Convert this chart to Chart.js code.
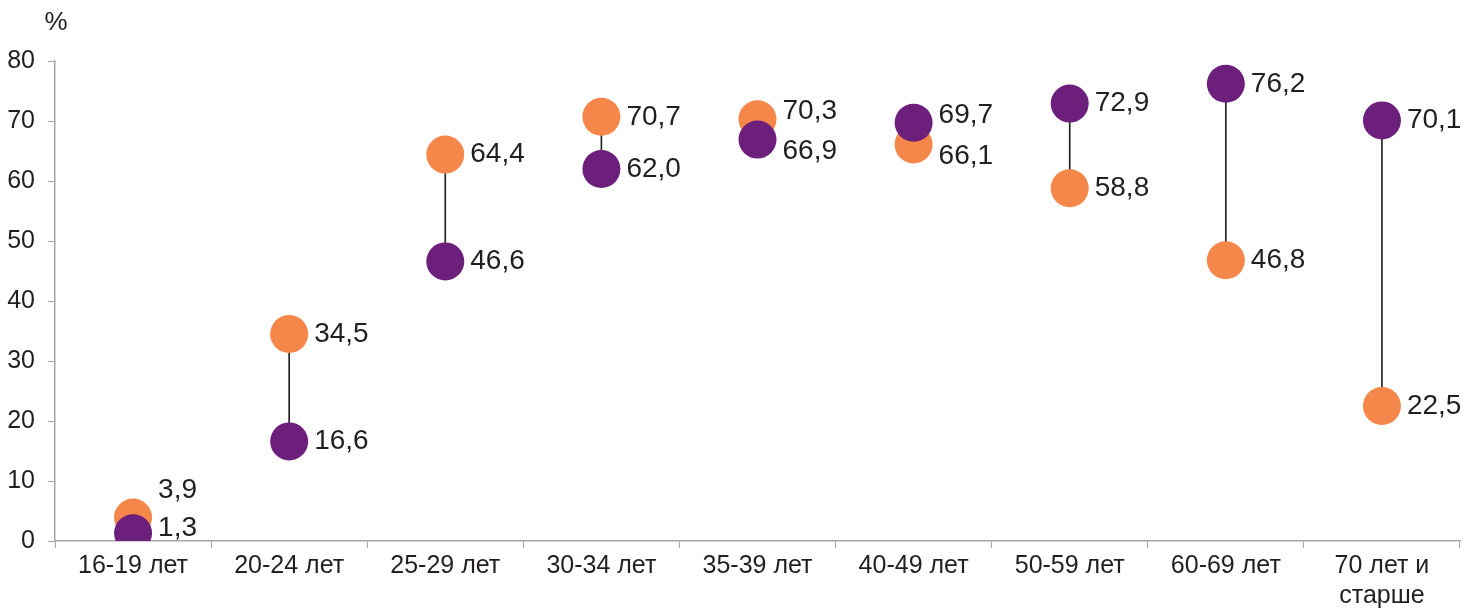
<!DOCTYPE html>
<html>
<head>
<meta charset="utf-8">
<script src="https://cdn.jsdelivr.net/npm/chart.js@4"></script>
<style>
  body { margin: 0; background: #fff; }
  #wrap { width: 1482px; height: 611px; }
</style>
</head>
<body>
<div id="wrap"><canvas id="dotChart" width="1482" height="611"></canvas></div>
<script>
var categories = ['16-19 лет', '20-24 лет', '25-29 лет', '30-34 лет', '35-39 лет', '40-49 лет', '50-59 лет', '60-69 лет', ['70 лет и', 'старше']];
var orangeValues = [3.9, 34.5, 64.4, 70.7, 70.3, 66.1, 58.8, 46.8, 22.5];
var purpleValues = [1.3, 16.6, 46.6, 62.0, 66.9, 69.7, 72.9, 76.2, 70.1];
var yTicks = [0, 10, 20, 30, 40, 50, 60, 70, 80];

var ORANGE = '#F5874A';
var PURPLE = '#6C1F7B';
var TEXT = '#231F20';
var AXIS = '#A6A6A6';
var FONT = '"Liberation Sans", Arial, sans-serif';

// thin line between the two dots of each category (floating bar)
var ranges = orangeValues.map(function (v, i) {
    return [Math.min(v, purpleValues[i]), Math.max(v, purpleValues[i])];
});

function fmt(v) {
    return v.toFixed(1).replace('.', ',');
}

var labelPlugin = {
    id: 'dotLabels',
    afterDatasetsDraw: function (chart) {
        var ctx = chart.ctx;
        var oMeta = chart.getDatasetMeta(1);
        var pMeta = chart.getDatasetMeta(2);
        var bottom = chart.chartArea.bottom - 13;
        ctx.save();
        ctx.font = '28px ' + FONT;
        ctx.fillStyle = TEXT;
        ctx.textBaseline = 'middle';
        ctx.textAlign = 'left';
        for (var i = 0; i < categories.length; i++) {
            var o = oMeta.data[i], p = pMeta.data[i];
            var oy = o.y, py = p.y;
            if (Math.abs(oy - py) < 40) {
                // keep close labels from overlapping
                var upY = Math.min(oy, py), lowY = Math.max(oy, py);
                var low = Math.min(lowY + 12, bottom);
                var up = Math.min(upY - 8, low - 38);
                if (oy <= py) { oy = up; py = low; } else { py = up; oy = low; }
            }
            ctx.fillText(fmt(orangeValues[i]), o.x + 25, oy);
            ctx.fillText(fmt(purpleValues[i]), p.x + 25, py);
        }
        // unit label above the y axis
        ctx.font = '26px ' + FONT;
        ctx.textAlign = 'center';
        ctx.fillText('%', chart.chartArea.left + 1, 23);
        ctx.restore();
    }
};

var ctx = document.getElementById('dotChart').getContext('2d');
var dotChart = new Chart(ctx, {
    type: 'bar',
    data: {
        labels: categories,
        datasets: [{
            type: 'bar',
            data: ranges,
            backgroundColor: '#222',
            barThickness: 1,
            order: 3
        }, {
            type: 'line',
            label: 'orange',
            data: orangeValues,
            showLine: false,
            pointRadius: 19,
            pointHoverRadius: 19,
            pointBorderWidth: 0,
            pointBackgroundColor: ORANGE,
            borderColor: ORANGE,
            order: 2
        }, {
            type: 'line',
            label: 'purple',
            data: purpleValues,
            showLine: false,
            pointRadius: 19,
            pointHoverRadius: 19,
            pointBorderWidth: 0,
            pointBackgroundColor: PURPLE,
            borderColor: PURPLE,
            order: 1
        }]
    },
    options: {
        responsive: false,
        animation: false,
        devicePixelRatio: 1,
        layout: { padding: { left: 0, top: 61, right: 22, bottom: 0 } },
        plugins: {
            legend: { display: false },
            tooltip: { enabled: false }
        },
        events: [],
        scales: {
            x: {
                offset: true,
                grid: { display: true, offset: true, drawOnChartArea: false, drawTicks: true, tickLength: 7, color: AXIS },
                border: { display: true, color: AXIS, width: 1.5 },
                ticks: { color: TEXT, font: { family: FONT, size: 25, lineHeight: 1.2 }, padding: 3, maxRotation: 0, autoSkip: false },
                afterFit: function (scale) { scale.height = 70; }
            },
            y: {
                min: 0,
                max: 80,
                afterBuildTicks: function (scale) {
                    scale.ticks = yTicks.map(function (v) { return { value: v }; });
                },
                grid: { display: true, drawOnChartArea: false, drawTicks: true, tickLength: 7, color: AXIS },
                border: { display: true, color: AXIS, width: 1.5 },
                ticks: { color: TEXT, font: { family: FONT, size: 25 }, padding: 13 },
                afterFit: function (scale) { scale.width = 55; }
            }
        }
    },
    plugins: [labelPlugin]
});
</script>
</body>
</html>
